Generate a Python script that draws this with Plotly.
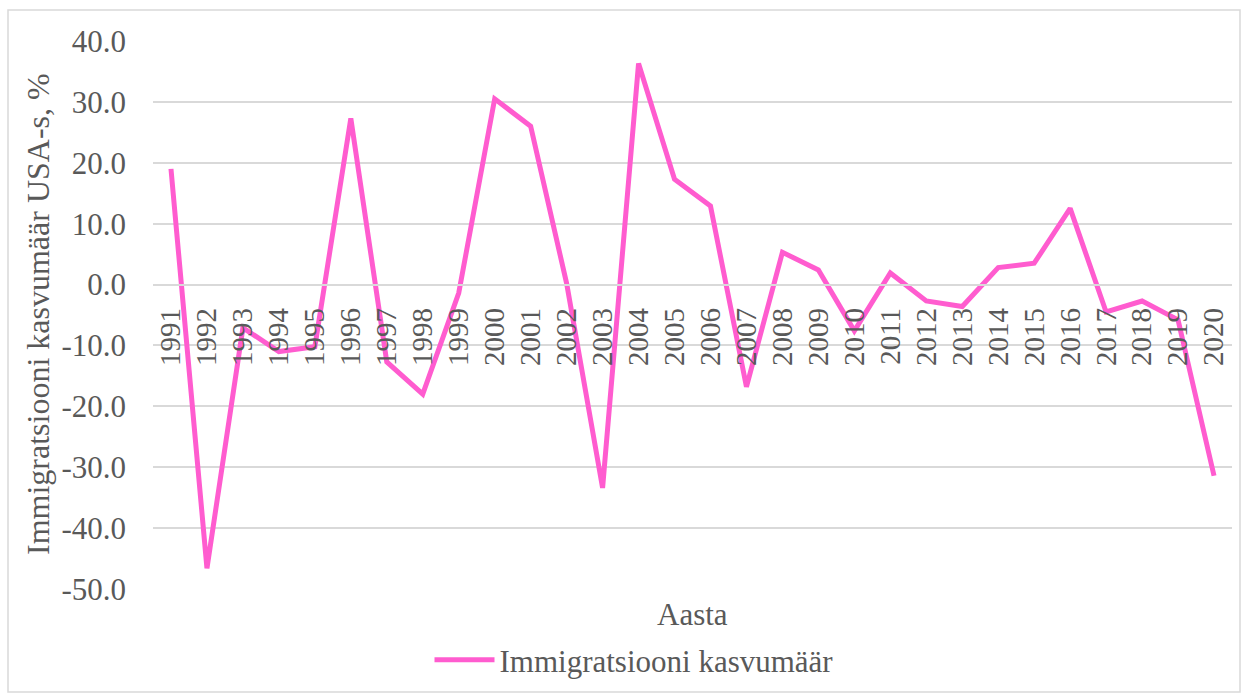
import plotly.graph_objects as go

years = [str(y) for y in range(1991, 2021)]
growth = [19.0, -46.6, -7.1, -11.0, -10.2, 27.3, -12.7, -18.0, -1.4, 30.5,
          26.0, 0.2, -33.4, 36.3, 17.3, 12.9, -16.8, 5.3, 2.4, -7.6,
          1.9, -2.7, -3.6, 2.8, 3.5, 12.5, -4.5, -2.7, -5.8, -31.4]
series_name = "Immigratsiooni kasvumäär"
y_title = "Immigratsiooni kasvumäär USA-s, %"
x_title = "Aasta"
y_min, y_max = -50, 40
y_ticks = [-50, -40, -30, -20, -10, 0, 10, 20, 30, 40]

FONT = "Liberation Serif, Times New Roman, serif"
GRAY = "#595959"
GRID = "#D9D9D9"
PINK = "#FF5CCF"

fig = go.Figure()
fig.add_trace(go.Scatter(x=years, y=growth, mode="lines", name=series_name,
                         line=dict(color=PINK, width=5)))

W, H = 1245, 695
L, R, T, B = 153, 13, 41, 106
pw, ph = W - L - R, H - T - B

def px_x(p):
    return (p - L) / pw

def px_y(p):
    return (H - B - p) / ph

fig.update_layout(
    width=W, height=H,
    margin=dict(l=L, r=R, t=T, b=B, autoexpand=False),
    paper_bgcolor="white", plot_bgcolor="white",
    font=dict(family=FONT, color=GRAY, size=31),
    showlegend=True,
    legend=dict(orientation="h", x=px_x(634), xanchor="center",
                y=px_y(660), yanchor="middle",
                font=dict(size=31, color=GRAY, family=FONT), itemwidth=60),
    xaxis=dict(type="category", range=[-0.5, len(years) - 0.5],
               anchor="free", position=(0 - y_min) / (y_max - y_min),
               tickmode="array", tickvals=years, ticktext=years,
               showline=True, linecolor=GRID, linewidth=1.5,
               showgrid=False, zeroline=False, automargin=False,
               ticks="outside", ticklen=11, tickcolor="rgba(0,0,0,0)",
               tickangle=-90, tickfont=dict(size=29, color=GRAY, family=FONT)),
    yaxis=dict(range=[y_min, y_max], tickvals=y_ticks,
               ticktext=[f"{v:.1f}" for v in y_ticks],
               showgrid=True, gridcolor=GRID, gridwidth=1.5,
               zeroline=False, showline=False, ticks="", automargin=False,
               ticklabelstandoff=26,
               tickfont=dict(size=31, color=GRAY, family=FONT)),
    annotations=[
        dict(text=y_title, xref="paper", yref="paper",
             x=px_x(38), y=px_y(314), textangle=-90,
             showarrow=False, font=dict(size=32, color=GRAY, family=FONT),
             xanchor="center", yanchor="middle"),
        dict(text=x_title, xref="paper", yref="paper",
             x=px_x(692), y=px_y(614), showarrow=False,
             font=dict(size=31, color=GRAY, family=FONT),
             xanchor="center", yanchor="middle"),
    ],
    shapes=[dict(type="rect", xref="paper", yref="paper",
                 x0=px_x(8), x1=px_x(1240), y0=px_y(692), y1=px_y(10),
                 line=dict(color=GRID, width=1.5), fillcolor="rgba(0,0,0,0)",
                 layer="below")],
)

fig.write_html("out.html", config={"displayModeBar": False},
               post_script="document.body.style.margin='0';document.body.style.overflow='hidden';")
